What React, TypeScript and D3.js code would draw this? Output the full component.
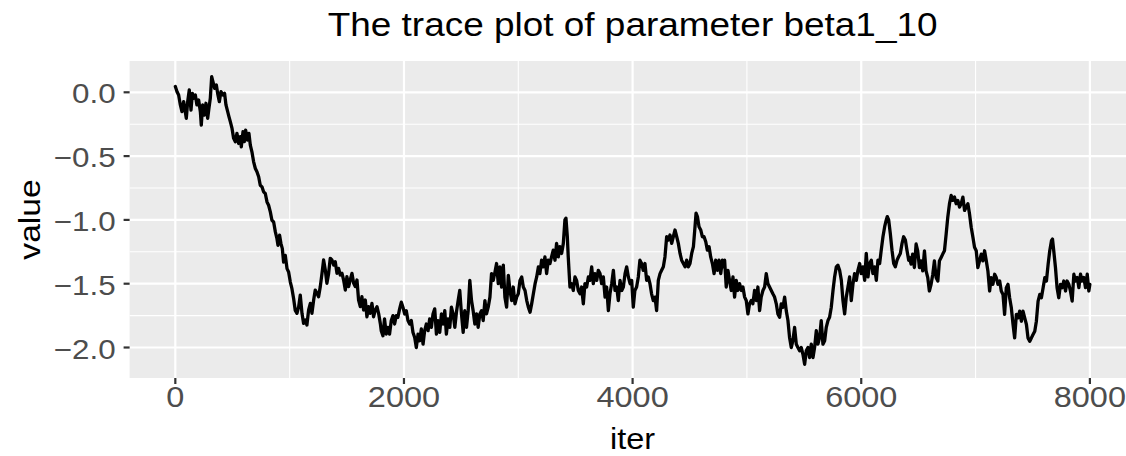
import React from 'react';
import * as d3 from 'd3';

const W = 1126;
const H = 456;

const chartTitle = 'The trace plot of parameter beta1_10';
const xAxisTitle = 'iter';
const yAxisTitle = 'value';
const xTicks = [0, 2000, 4000, 6000, 8000];
const xTickLabels = ['0', '2000', '4000', '6000', '8000'];
const xMinor = [1000, 3000, 5000, 7000];
const yTicks = [0, -0.5, -1, -1.5, -2];
const yTickLabels = ['0.0', '\u22120.5', '\u22121.0', '\u22121.5', '\u22122.0'];
const yMinor = [-0.25, -0.75, -1.25, -1.75];

// [iter, value], segment by segment
const traceA: [number, number][] = [
  [0, 0.045], [15, 0.005], [29, -0.021], [44, -0.099], [58, -0.152], [73, -0.073], [87, -0.152], [96, -0.204], [108, -0.073], [122, 0.018],
  [137, -0.139], [149, -0.008], [160, -0.047], [175, -0.021], [189, -0.099], [204, -0.06], [219, -0.152], [227, -0.257], [239, -0.099], [254, -0.178],
  [268, -0.086], [283, -0.204], [294, -0.126], [306, -0.047], [318, 0.123], [329, 0.084], [344, 0.031], [359, 0.058], [370, -0.008], [385, -0.073],
  [399, 0.005], [417, -0.021], [431, -0.008], [443, -0.099], [458, -0.152], [469, -0.191], [481, -0.23], [496, -0.283], [510, -0.361], [525, -0.387],
  [539, -0.322], [554, -0.401], [569, -0.348], [577, -0.427], [592, -0.309], [603, -0.387], [615, -0.296], [630, -0.374], [644, -0.322], [656, -0.414],
  [670, -0.466], [685, -0.545], [700, -0.597], [714, -0.623], [729, -0.662], [743, -0.728], [758, -0.741], [772, -0.78], [787, -0.793], [802, -0.859],
  [816, -0.885], [831, -0.937], [845, -1.003], [860, -1.016], [875, -1.094], [889, -1.147], [898, -1.199], [912, -1.12], [924, -1.186], [936, -1.225],
  [947, -1.33], [962, -1.278], [977, -1.382], [991, -1.408], [1006, -1.487], [1020, -1.539], [1035, -1.618], [1049, -1.71],
];

const traceB: [number, number][] = [
  [1064, -1.732], [1079, -1.68], [1093, -1.589], [1108, -1.732], [1122, -1.811], [1137, -1.785], [1151, -1.824], [1166, -1.706], [1181, -1.654], [1195, -1.732],
  [1210, -1.628], [1224, -1.55], [1239, -1.576], [1253, -1.602], [1268, -1.523], [1283, -1.419], [1297, -1.314], [1312, -1.393], [1326, -1.497], [1341, -1.419],
  [1355, -1.301], [1370, -1.314], [1385, -1.354], [1399, -1.327], [1414, -1.419], [1428, -1.38], [1443, -1.432], [1458, -1.419], [1472, -1.471], [1487, -1.55],
  [1501, -1.445], [1516, -1.523], [1530, -1.471], [1545, -1.419], [1560, -1.497], [1574, -1.523], [1589, -1.471], [1603, -1.628], [1618, -1.68], [1632, -1.602],
  [1647, -1.706], [1662, -1.628], [1676, -1.759], [1691, -1.68], [1705, -1.732], [1720, -1.654], [1734, -1.759], [1749, -1.706], [1764, -1.68], [1778, -1.732],
  [1793, -1.811],
];

const traceC: [number, number][] = [
  [1801, -1.868], [1816, -1.908], [1830, -1.776], [1845, -1.895], [1860, -1.842], [1874, -1.895], [1889, -1.789], [1904, -1.75], [1918, -1.816], [1933, -1.75],
  [1947, -1.763], [1962, -1.697], [1977, -1.645], [1991, -1.684], [2006, -1.737], [2020, -1.711], [2035, -1.789], [2050, -1.816], [2064, -1.789], [2079, -1.882],
  [2094, -1.921], [2108, -2.0], [2123, -1.895], [2137, -1.947], [2152, -1.855], [2167, -1.974], [2181, -1.868], [2196, -1.816], [2211, -1.868], [2225, -1.776],
  [2240, -1.842], [2254, -1.737], [2269, -1.697], [2284, -1.895], [2298, -1.789], [2313, -1.882], [2328, -1.737], [2342, -1.816], [2357, -1.711], [2371, -1.895],
  [2386, -1.776], [2401, -1.842], [2415, -1.684], [2430, -1.737], [2445, -1.842], [2459, -1.724], [2474, -1.632], [2488, -1.553], [2503, -1.737], [2518, -1.882],
  [2532, -1.711], [2547, -1.842], [2562, -1.711], [2576, -1.474], [2591, -1.632], [2605, -1.711], [2620, -1.816], [2635, -1.737], [2649, -1.842], [2664, -1.737],
  [2679, -1.711], [2693, -1.789], [2708, -1.632], [2722, -1.737], [2737, -1.684], [2752, -1.605], [2766, -1.421], [2781, -1.474], [2796, -1.408], [2810, -1.342],
  [2825, -1.5], [2839, -1.368], [2854, -1.526], [2869, -1.355], [2883, -1.605], [2898, -1.684], [2913, -1.434], [2927, -1.553], [2942, -1.632], [2956, -1.526],
  [2971, -1.658], [2986, -1.605], [3000, -1.579], [3015, -1.474], [3030, -1.447], [3044, -1.526], [3059, -1.553], [3074, -1.632], [3088, -1.684], [3103, -1.724],
  [3117, -1.658], [3132, -1.579], [3147, -1.5], [3161, -1.447], [3176, -1.368],
];

const traceD: [number, number][] = [
  [3189, -1.421], [3204, -1.316], [3218, -1.368], [3233, -1.29], [3248, -1.421], [3262, -1.316], [3277, -1.342], [3291, -1.29], [3306, -1.237], [3321, -1.316],
  [3335, -1.184], [3350, -1.29], [3364, -1.21], [3379, -1.263], [3394, -1.184], [3408, -1.0], [3417, -0.987], [3429, -1.132], [3437, -1.29], [3452, -1.526],
  [3467, -1.5], [3481, -1.553], [3496, -1.447], [3510, -1.474], [3525, -1.553], [3540, -1.579], [3554, -1.526], [3569, -1.658], [3583, -1.5], [3598, -1.526],
  [3613, -1.447], [3627, -1.474], [3642, -1.368], [3656, -1.5], [3671, -1.421], [3686, -1.474], [3700, -1.395], [3715, -1.421], [3729, -1.5], [3744, -1.447],
  [3759, -1.605], [3773, -1.526], [3788, -1.711], [3802, -1.579], [3817, -1.5], [3832, -1.395], [3846, -1.553], [3861, -1.526], [3875, -1.632], [3890, -1.474],
  [3905, -1.553], [3919, -1.526], [3934, -1.421], [3948, -1.368], [3963, -1.447], [3978, -1.5], [3992, -1.474], [4006, -1.684], [4020, -1.553], [4035, -1.526],
  [4050, -1.447], [4064, -1.316], [4079, -1.342], [4093, -1.395], [4108, -1.342], [4123, -1.474], [4137, -1.447], [4152, -1.5], [4166, -1.579], [4181, -1.632],
  [4196, -1.605], [4210, -1.711], [4225, -1.474], [4240, -1.421], [4254, -1.395], [4269, -1.368], [4283, -1.29], [4298, -1.132], [4313, -1.158], [4327, -1.118],
  [4342, -1.184], [4356, -1.132], [4371, -1.079], [4386, -1.132], [4400, -1.184], [4415, -1.263], [4429, -1.316], [4444, -1.342], [4459, -1.368], [4473, -1.316],
  [4488, -1.368], [4502, -1.342], [4517, -1.263], [4532, -1.21], [4546, -1.053], [4555, -0.947], [4567, -0.974], [4581, -1.053], [4596, -1.079], [4610, -1.132],
  [4625, -1.132], [4640, -1.171], [4654, -1.237], [4669, -1.21], [4683, -1.29], [4698, -1.342], [4713, -1.421], [4727, -1.316], [4742, -1.395], [4756, -1.316],
  [4771, -1.421], [4786, -1.316], [4800, -1.368],
];

const traceE: [number, number][] = [
  [4805, -1.316], [4819, -1.526], [4834, -1.395], [4848, -1.474], [4863, -1.553], [4878, -1.447], [4892, -1.605], [4907, -1.474], [4921, -1.553], [4936, -1.5],
  [4951, -1.553], [4965, -1.526], [4980, -1.605], [4994, -1.632], [5009, -1.737], [5023, -1.658], [5038, -1.632], [5052, -1.658], [5067, -1.553], [5082, -1.632],
  [5096, -1.526], [5111, -1.711], [5125, -1.605], [5140, -1.553], [5155, -1.526], [5169, -1.421], [5184, -1.5], [5198, -1.526], [5213, -1.553], [5227, -1.579],
  [5242, -1.605], [5257, -1.658], [5271, -1.737], [5286, -1.763], [5300, -1.658], [5315, -1.684], [5330, -1.605], [5344, -1.711], [5359, -1.789], [5373, -1.921],
  [5388, -2.0], [5402, -1.947], [5417, -1.842], [5432, -1.974], [5446, -2.0], [5461, -2.026], [5475, -2.0], [5490, -2.053], [5505, -2.132], [5519, -2.026],
  [5534, -2.0], [5548, -2.079], [5563, -1.974], [5578, -2.079], [5592, -2.0], [5607, -1.868], [5621, -1.974], [5636, -1.921], [5650, -1.789], [5665, -1.974],
  [5680, -1.947], [5694, -1.842], [5709, -1.789], [5723, -1.763], [5738, -1.684], [5753, -1.553], [5767, -1.447], [5782, -1.368], [5796, -1.355], [5811, -1.395],
  [5826, -1.474], [5840, -1.632], [5855, -1.737], [5869, -1.605], [5884, -1.526], [5898, -1.447], [5913, -1.632], [5928, -1.5], [5942, -1.421], [5957, -1.474],
  [5971, -1.395], [5986, -1.342], [6000, -1.421], [6015, -1.368], [6030, -1.474], [6044, -1.263], [6059, -1.447], [6073, -1.342], [6088, -1.316], [6102, -1.421],
  [6117, -1.368], [6132, -1.474], [6146, -1.316], [6161, -1.342], [6175, -1.237], [6190, -1.132], [6205, -1.053], [6219, -1.0], [6228, -0.974], [6240, -1.0],
  [6254, -1.105], [6269, -1.237], [6284, -1.342], [6298, -1.368], [6313, -1.316], [6327, -1.289], [6342, -1.263], [6357, -1.184], [6371, -1.132], [6386, -1.158],
  [6400, -1.237], [6415, -1.316],
];

const traceF: [number, number][] = [
  [6421, -1.294], [6436, -1.347], [6450, -1.268], [6465, -1.373], [6480, -1.189], [6494, -1.242], [6509, -1.373], [6523, -1.321], [6538, -1.4], [6553, -1.242],
  [6567, -1.4], [6582, -1.452], [6596, -1.557], [6611, -1.505], [6626, -1.426], [6640, -1.321], [6655, -1.452], [6670, -1.479], [6684, -1.321], [6699, -1.294],
  [6713, -1.268], [6728, -1.242], [6743, -1.11], [6757, -0.979], [6772, -0.873], [6787, -0.808], [6801, -0.847], [6816, -0.821], [6830, -0.873], [6845, -0.847],
  [6860, -0.9], [6874, -0.873], [6889, -0.821], [6904, -0.926], [6918, -0.9], [6933, -0.873], [6947, -0.952], [6962, -1.058], [6977, -1.136], [6991, -1.215],
  [7006, -1.242], [7020, -1.373], [7035, -1.321], [7050, -1.268], [7064, -1.321], [7079, -1.242], [7094, -1.321], [7108, -1.4], [7123, -1.557], [7137, -1.452],
  [7152, -1.505], [7167, -1.426], [7181, -1.452], [7196, -1.505], [7211, -1.479], [7225, -1.557], [7240, -1.584], [7254, -1.741], [7269, -1.531], [7284, -1.505],
  [7298, -1.61], [7313, -1.689], [7328, -1.82], [7342, -1.925], [7357, -1.741], [7371, -1.768], [7386, -1.715], [7401, -1.794], [7415, -1.715], [7430, -1.768],
  [7445, -1.82], [7459, -1.925], [7474, -1.952], [7488, -1.925], [7503, -1.899], [7518, -1.873], [7532, -1.794], [7547, -1.636], [7562, -1.584], [7576, -1.61],
  [7591, -1.531], [7606, -1.452], [7620, -1.479], [7635, -1.347], [7649, -1.242], [7664, -1.163], [7673, -1.15], [7684, -1.242], [7699, -1.373], [7713, -1.531],
  [7728, -1.61], [7743, -1.505], [7757, -1.531], [7772, -1.479], [7787, -1.557], [7801, -1.479], [7816, -1.505], [7830, -1.557], [7845, -1.636], [7860, -1.426],
  [7874, -1.479], [7889, -1.452], [7904, -1.531], [7918, -1.426], [7933, -1.479], [7947, -1.452], [7962, -1.531], [7977, -1.426], [7991, -1.557], [8000, -1.505],
];

const FONT = "'Liberation Sans', Arial, Helvetica, sans-serif";

export default function App() {
  const panel = { left: 129.6, right: 1135.6, top: 61, bottom: 378 };
  const x = d3.scaleLinear().domain([-400, 8400]).range([panel.left, panel.right]);
  const y = d3.scaleLinear().domain([-2.239, 0.2453]).range([panel.bottom, panel.top]);
  const data = [...traceA, ...traceB, ...traceC, ...traceD, ...traceE, ...traceF];
  const line = d3.line<[number, number]>().x(d => x(d[0])).y(d => y(d[1]));
  const sx = 1.12;

  return (
    <svg width={W} height={H} style={{ position: 'absolute', left: 0, top: 0, display: 'block', background: '#fff' }} fontFamily={FONT}>
      <rect x={0} y={0} width={W} height={H} fill="#ffffff" />
      <defs>
        <clipPath id="panelClip">
          <rect x={panel.left} y={panel.top} width={panel.right - panel.left} height={panel.bottom - panel.top} />
        </clipPath>
      </defs>
      <rect x={panel.left} y={panel.top} width={panel.right - panel.left} height={panel.bottom - panel.top} fill="#EBEBEB" />
      <g stroke="#ffffff" fill="none">
        {yMinor.map(v => (
          <line key={'ym' + v} x1={panel.left} x2={panel.right} y1={y(v)} y2={y(v)} strokeWidth={1.1} />
        ))}
        {xMinor.map(v => (
          <line key={'xm' + v} y1={panel.top} y2={panel.bottom} x1={x(v)} x2={x(v)} strokeWidth={1.1} />
        ))}
        {yTicks.map(v => (
          <line key={'yM' + v} x1={panel.left} x2={panel.right} y1={y(v)} y2={y(v)} strokeWidth={2.2} />
        ))}
        {xTicks.map(v => (
          <line key={'xM' + v} y1={panel.top} y2={panel.bottom} x1={x(v)} x2={x(v)} strokeWidth={2.2} />
        ))}
      </g>
      <path d={line(data) || ''} fill="none" stroke="#000000" strokeWidth={3.3} strokeLinejoin="round" strokeLinecap="round" clipPath="url(#panelClip)" />
      <g stroke="#333333" strokeWidth={2.2}>
        {yTicks.map(v => (
          <line key={'yt' + v} x1={panel.left - 6} x2={panel.left} y1={y(v)} y2={y(v)} />
        ))}
        {xTicks.map(v => (
          <line key={'xt' + v} x1={x(v)} x2={x(v)} y1={panel.bottom} y2={panel.bottom + 6} />
        ))}
      </g>
      <g fill="#4D4D4D" fontSize={28}>
        {yTicks.map((v, i) => (
          <text key={'yl' + v} textAnchor="end" transform={`translate(${panel.left - 14},${y(v) + 11}) scale(${sx},1)`}>
            {yTickLabels[i]}
          </text>
        ))}
      </g>
      <g fill="#4D4D4D" fontSize={29}>
        {xTicks.map((v, i) => (
          <text key={'xl' + v} textAnchor="middle" transform={`translate(${x(v)},${panel.bottom + 29}) scale(${sx},1)`}>
            {xTickLabels[i]}
          </text>
        ))}
      </g>
      <text fill="#000" fontSize={29} textAnchor="middle" transform={`translate(${(panel.left + panel.right) / 2},449) scale(${sx},1)`}>
        {xAxisTitle}
      </text>
      <text fill="#000" fontSize={30} textAnchor="middle" transform={`translate(40,${(panel.top + panel.bottom) / 2}) rotate(-90) scale(${sx},1)`}>
        {yAxisTitle}
      </text>
      <text fill="#000" fontSize={33} textAnchor="middle" transform={`translate(${(panel.left + panel.right) / 2},36) scale(${sx},1)`}>
        {chartTitle}
      </text>
    </svg>
  );
}
